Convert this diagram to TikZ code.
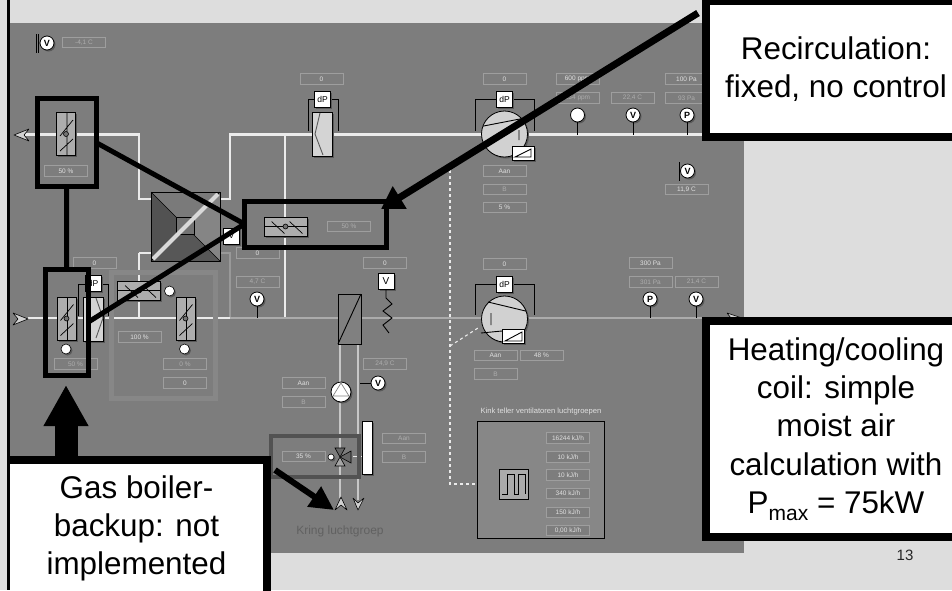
\documentclass[tikz,border=0pt]{standalone}
\usepackage{fontspec}
\setmainfont{Liberation Sans}
\usetikzlibrary{arrows.meta,shadows}
\definecolor{bgc}{gray}{.865}
\definecolor{panelc}{gray}{.49}
\definecolor{rim}{gray}{.62}
\definecolor{rotxt}{gray}{.88}
\definecolor{rodim}{gray}{.68}
\tikzset{
  shd/.style={general shadow={fill=black!65,shadow xshift=1.5pt,shadow yshift=-1.5pt}},
  readout/.style={draw=rim,line width=.8pt,fill=panelc,text=rotxt,minimum width=43pt,minimum height=10.5pt,inner sep=0pt,outer sep=0pt,font=\fontsize{6.5}{7}\selectfont},
  rodimmed/.style={readout,text=rodim},
  vd/.style={draw=black,line width=.8pt,fill=black!32,minimum width=19pt,minimum height=43pt,inner sep=0pt,outer sep=0pt,shd},
  hd/.style={draw=black,line width=.8pt,fill=black!32,minimum width=43pt,minimum height=19pt,inner sep=0pt,outer sep=0pt,shd},
  flt/.style={draw=black,line width=.8pt,fill=black!17,minimum width=20pt,minimum height=44pt,inner sep=0pt,outer sep=0pt,shd},
  knob/.style={circle,draw=black,line width=.6pt,fill=black!55,minimum size=5pt,inner sep=0pt},
  ball/.style={circle,draw=black,line width=.6pt,fill=white,minimum size=10pt,inner sep=0pt,shd},
  sens/.style={circle,draw=black,line width=.8pt,fill=white,minimum size=14pt,inner sep=0pt,shd,font=\fontsize{9}{9}\selectfont\bfseries},
  dpb/.style={draw=black,line width=.8pt,fill=white,minimum width=16pt,minimum height=16pt,inner sep=0pt,outer sep=0pt,shd,font=\fontsize{8.5}{9}\selectfont},
  fanc/.style={circle,draw=black,line width=.8pt,fill=black!18,minimum size=46pt,inner sep=0pt,outer sep=0pt,shd},
  slope/.style={draw=black,line width=.8pt,fill=white,minimum width=22pt,minimum height=14pt,inner sep=0pt,outer sep=0pt,shd},
  duct/.style={draw=black!8,line width=2.4pt},
  duct2/.style={draw=black!33,line width=1.6pt},
  pipe/.style={draw=black!22,line width=1.3pt},
  thin/.style={draw=black,line width=.9pt},
  dots/.style={draw=black!8,line width=1.1pt,dash pattern=on 3pt off 3pt},
  frm/.style={draw=black,line width=5pt,inner sep=0pt,outer sep=0pt},
  beam/.style={draw=black,line width=5pt},
  callout/.style={fill=white,draw=black,line width=8pt,inner sep=0pt,outer sep=0pt,align=center,font=\fontsize{31.4}{38.2}\selectfont},
  endtip/.style={fill=black!18,draw=black,line width=.6pt,line join=round},
}
\newcommand{\rdout}[4]{\node[readout] (#1) at (#2,#3) {#4};}
\newcommand{\rdim}[4]{\node[rodimmed] (#1) at (#2,#3) {#4};}
\newcommand{\vdamp}[3]{\node[vd] (#1) at (#2,#3) {};
  \begin{scope}[shift={(#2,#3)}]
    \draw[thin,line width=.7pt] (1,-21.5)--(1,21.5) (-6,2)--(7,-14) (-6,17)--(7,5);
    \node[knob] (#1k) at (0,0) {};
  \end{scope}}
\newcommand{\hdamp}[3]{\node[hd] (#1) at (#2,#3) {};
  \begin{scope}[shift={(#2,#3)}]
    \draw[thin,line width=.7pt] (-21.5,0)--(21.5,0) (-14,-5)--(-1,7) (4,-5)--(17,7);
    \node[knob] (#1k) at (0,0) {};
  \end{scope}}
\newcommand{\snsr}[4]{\node[sens] (#1) at (#2,#3) {#4};}
\begin{document}
\begin{tikzpicture}[x=1pt,y=-1pt]
\useasboundingbox (0,0) rectangle (952,590);
\clip (0,0) rectangle (952,590);
\fill[bgc] (0,0) rectangle (952,590);
\fill[panelc] (10,23) rectangle (744,553);
% reference levels
\coordinate (dT) at (0,134.5);
\coordinate (dB) at (0,318);
% ducts
\node[draw=black,line width=.8pt,minimum size=69pt,inner sep=0pt,outer sep=0pt] (hx) at (185.5,226.5) {};
\draw[duct] (25,134.5) -- (139,134.5) -- (139,199) -- (hx.west |- 0,199);
\draw[duct] (hx.east |- 0,199) -- (230,199) -- (230,134.5) -- (744,134.5);
\draw[duct] (285,134.5) -- (285,318);
\draw[duct,line width=1.8pt] (139,253) -- (139,318);
\draw[pipe,draw=black!40] (hx.east |- 0,253) -- (230,253) -- (230,318);
\draw[duct,draw=black!8,line width=2pt] (139,253) -- (hx.west |- 0,253);
\draw[duct,line width=2pt] (28,318) -- (230,318);
\draw[duct2] (230,318) -- (744,318);
% heat exchanger
\fill[black!52] (hx.north west) -- (hx.north east) -- (hx.center) -- cycle;
\fill[black!68] (hx.north west) -- (hx.south west) -- (hx.center) -- cycle;
\fill[black!48] (hx.north east) -- (hx.south east) -- (hx.center) -- cycle;
\fill[black!66] (hx.south west) -- (hx.south east) -- (hx.center) -- cycle;
\draw[black,line width=.7pt] (hx.north west) -- (hx.south east) (hx.north east) -- (hx.south west);
\draw[black,line width=.8pt,fill=black!55] (176.5,217.5) rectangle (194,234.5);
\draw[black!15,line width=4pt] (153,259) -- (218,194);
\draw[black,line width=.8pt] (hx.north west) rectangle (hx.south east);
\node[dpb] (hxv) at (231.5,236) {V};
% end tips
\draw[endtip] (14,135) -- (29,129) -- (24,135) -- (29,141) -- cycle;
\draw[endtip] (13,313) -- (28,319) -- (13,325) -- (18,319) -- cycle;
\draw[endtip] (727,313) -- (742,318) -- (727,323) -- (731,318) -- cycle;
% top-left sensor
\draw[thin] (36.5,34) -- (36.5,53) (38.5,34) -- (38.5,53);
\snsr{s0}{47}{43}{V}
\rdim{r0}{84}{42.5}{-4,1 C}
% upper filter
\draw[thin] (308,131) -- (308,99.5) -- (338,99.5) -- (338,131);
\node[flt] (f1) at (322,134) {};
\draw[thin,draw=black!65] (320,113) -- (315,134) -- (323,155);
\node[dpb] (dp1) at (322.5,99) {dP};
\rdout{r1}{321.5}{79}{0}
% upper fan
\draw[thin] (475,131) -- (475,99.5) -- (534,99.5) -- (534,131);
\node[fanc] (fan1) at (504.5,134) {};
\draw[thin] (fan1.160) -- (525,118) (519,130) -- (519,140);
\node[dpb] (dp2) at (504.5,99) {dP};
\node[slope] (sl1) at (523,153) {};
\draw[thin] (515,157) -- (531,149) -- (531,157) -- cycle;
\rdout{r2}{504.5}{79}{0}
\rdout{r3}{504.5}{171}{Aan}
\rdim{r4}{504.5}{189.5}{B}
\rdout{r5}{504.5}{207.5}{5 \%}
% upper sensors
\rdout{r6}{577.5}{79}{600 ppm}
\rdim{r7}{577.5}{98}{234 ppm}
\rdim{r8}{632.5}{98}{22,4 C}
\rdout{r9}{686.5}{79}{100 Pa}
\rdim{r10}{686.5}{98}{93 Pa}
\snsr{s1}{577.5}{115}{}
\snsr{s2}{633}{115}{V}
\snsr{s3}{687}{115}{P}
\draw[thin] (s1.south) -- (s1.south |- dT) (s2.south) -- (s2.south |- dT) (s3.south) -- (s3.south |- dT);
\draw[thin] (679,162) -- (679,181);
\snsr{s4}{687.5}{171}{V}
\rdout{r11}{686.5}{189.5}{11,9 C}
% lower fan
\draw[dots] (450,170) -- (450,484) -- (495,484);
\draw[dots] (450,346) -- (478,328);
\draw[thin] (475,315) -- (475,284) -- (534,284) -- (534,315);
\node[fanc] (fan2) at (504.5,319) {};
\draw[thin] (488,302) -- (fan2.20) (481,333) -- (502,331) (491,313) -- (491,325);
\node[dpb] (dp3) at (504.5,284) {dP};
\node[slope] (sl2) at (513.5,336.5) {};
\draw[thin] (505,341) -- (522,332) -- (522,341) -- cycle;
\rdout{r12}{504.5}{264}{0}
\rdout{r13}{495.5}{355.5}{Aan}
\rdout{r14}{541.5}{355.5}{48 \%}
\rdim{r15}{495.5}{374}{B}
\rdout{r16}{650.5}{263}{300 Pa}
\rdim{r17}{650.5}{282}{301 Pa}
\rdim{r18}{696.5}{282}{21,4 C}
\snsr{s5}{650}{299}{P}
\snsr{s6}{696}{299}{V}
\draw[thin] (s5.south) -- (s5.south |- dB) (s6.south) -- (s6.south |- dB);
% counter panel
\node[draw=black,line width=1pt,fill=black!47,minimum width=127pt,minimum height=117pt,inner sep=0pt] (cnt) at (540.5,479.5) {};
\node[text=rotxt,font=\fontsize{7.6}{8}\selectfont,inner sep=0pt] (cntt) at (541,412) {Kink teller ventilatoren luchtgroepen};
\node[draw=black,line width=1pt,fill=black!33,minimum width=29pt,minimum height=30pt,inner sep=0pt] (pulse) at (513.5,484) {};
\draw[thin] (502,494) -- (507,494) -- (507,474) -- (514,474) -- (514,494) -- (518,494) -- (518,474) -- (525,474) -- (525,494);
\rdout{c1}{568}{438}{16244 kJ/h}
\rdout{c2}{568}{457}{10 kJ/h}
\rdout{c3}{568}{475}{10 kJ/h}
\rdout{c4}{568}{493.5}{340 kJ/h}
\rdout{c5}{568}{512.5}{150 kJ/h}
\rdout{c6}{568}{530.5}{0,00 kJ/h}
% middle column
\rdout{r19}{257.5}{253}{0}
\rdim{r20}{257.5}{282}{4,7 C}
\snsr{s7}{257}{299}{V}
\draw[thin] (s7.south) -- (s7.south |- dB);
\rdout{r21}{385}{263}{0}
\node[dpb,font=\fontsize{10}{10}\selectfont] (vb) at (386,281.5) {V};
\draw[thin] (vb.south) -- (386,298) -- (392,304) -- (383,311) -- (392,318) -- (383,325) -- (389,333);
% coil and water circuit
\draw[pipe] (340,344) -- (340,498);
\draw[pipe] (358,344) -- (358,500);
\node[draw=black,line width=.9pt,fill=black!50,minimum width=23pt,minimum height=50pt,inner sep=0pt,outer sep=0pt] (coil) at (349.5,319) {};
\draw[thin] (coil.south west) -- (coil.north east);
\rdim{r22}{385}{364}{24,9 C}
\snsr{s8}{378}{383}{V}
\draw[thin,draw=black] (s8.west) -- (360,383);
\rdout{r23}{303.5}{383}{Aan}
\rdim{r24}{303.5}{402}{B}
\node[circle,draw=black,line width=.8pt,fill=white,minimum size=20pt,inner sep=0pt,outer sep=0pt,shd] (pump) at (341,392) {};
\draw[black!50,line width=.7pt] (341,383) -- (333,396) -- (349,396) -- cycle;
\node[draw=black,line width=.8pt,fill=white,minimum width=10pt,minimum height=53pt,inner sep=0pt,outer sep=0pt,shd] (bar) at (367,447.5) {};
\rdim{r25}{404}{438.5}{Aan}
\rdim{r26}{404}{457}{B}
\draw[endtip] (341,497) -- (347,510) -- (341,505) -- (335,510) -- cycle;
\draw[endtip] (353,498) -- (358,503) -- (364,498) -- (358,510) -- cycle;
\node[text=black!62,font=\fontsize{12}{13}\selectfont,inner sep=0pt] (kring) at (340,531) {Kring  luchtgroep};
% valve
\rdout{r27}{303.5}{456.5}{35 \%}
\node[ball,minimum size=6pt] (vk) at (331,457) {};
\draw[black,line width=.6pt,fill=black!60] (340,457) -- (335,448) -- (345,448) -- cycle;
\draw[black,line width=.6pt,fill=black!35] (340,457) -- (335,466) -- (345,466) -- cycle;
\draw[black,line width=.6pt,fill=black!60] (340,457) -- (351,451) -- (351,463) -- cycle;
\draw[duct,line width=1pt] (353,456) -- (bar.west |- 0,456);
\node[draw=black!68,line width=4pt,minimum width=88pt,minimum height=41pt,inner sep=0pt,outer sep=0pt] (vfr) at (315,456.5) {};
% ghost highlight
\node[draw=black!47,line width=5pt,minimum width=104pt,minimum height=126pt,inner sep=0pt,outer sep=0pt] (ghost) at (163,335) {};
% lower-left components
\rdout{r28}{94.5}{263}{0}
\draw[thin] (78,316) -- (78,284) -- (108,284) -- (108,316);
\node[flt] (f2) at (93,319) {};
\draw[thin,draw=black!65] (96,298) -- (103,318) -- (96,338);
\node[dpb] (dp4) at (93,283.5) {dP};
\vdamp{d2}{66.5}{318.5}
\node[ball] (b2) at (66,349) {};
\rdim{r29}{75.5}{364}{50 \%}
\hdamp{d3}{139}{290.5}
\node[ball] (b3) at (169.5,291) {};
\vdamp{d4}{185.5}{318.5}
\node[ball] (b4) at (184.5,349) {};
\rdout{r30}{139.5}{337}{100 \%}
\rdim{r31}{185}{364}{0 \%}
\rdout{r32}{185}{383}{0}
% upper-left damper and recirculation damper
\vdamp{d1}{66}{134}
\rdout{r33}{66}{171}{50 \%}
\hdamp{d5}{285.5}{226.5}
\rdim{r34}{349}{226.5}{50 \%}
% highlighted frames
\node[frm,minimum width=58.5pt,minimum height=88pt] (fa) at (66.75,142.5) {};
\node[frm,minimum width=43pt,minimum height=105.5pt] (fb) at (66.5,322.25) {};
\node[frm,minimum width=141.5pt,minimum height=46pt] (fc) at (315.25,224) {};
\draw[beam] (fa.south) -- (fb.north);
\draw[beam] (fa.east) -- (fc.west);
\draw[beam] (fb.east) -- (fc.west);
% callouts
\node[callout,minimum width=260pt,minimum height=136pt] (recirc) at (836,69) {Recirculation:\\fixed, no control};
\node[callout,minimum width=260pt,minimum height=216.5pt] (heat) at (836,429) {Heating/cooling\\coil: simple\\moist air\\calculation with\\P\raisebox{-.22em}{\fontsize{21}{21}\selectfont max} = 75kW};
\node[callout,draw=none,minimum width=253pt,minimum height=137pt] (gas) at (136.5,528.5) {Gas boiler-\\backup: not\\implemented};
\draw[black,line width=8pt] (gas.north west) ++(-3,0) -- (gas.north east) ++(4,-4) -- ++(0,140);
\draw[black,line width=3pt] (8.5,0) -- (8.5,590);
\node[text=black!85,font=\fontsize{15}{16}\selectfont,inner sep=0pt] (pg) at (905,555) {13};
% arrows
\coordinate (a1s) at (698,13);
\coordinate (a1e) at (381,209);
\coordinate (a2s) at (66,456);
\coordinate (a2e) at (66,385);
\coordinate (a3s) at (275,470);
\coordinate (a3e) at (334,510);
\draw[black,line width=7pt,-{Triangle[length=22pt,width=25pt]}] (a1s) -- (a1e);
\draw[black,line width=23pt,-{Triangle[length=41pt,width=42pt]}] (a2s) -- (a2e);
\draw[black,line width=6pt,-{Triangle[length=24pt,width=23pt]}] (a3s) -- (a3e);
\end{tikzpicture}
\end{document}
